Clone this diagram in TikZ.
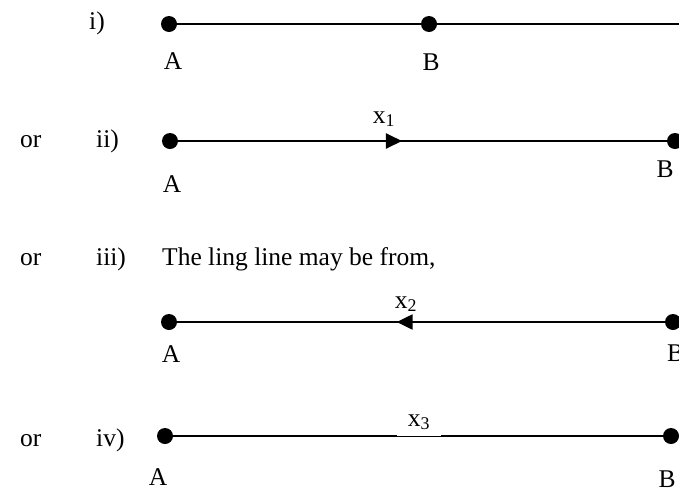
\documentclass[tikz,border=0pt]{standalone}
\usepackage{fontspec}
\setmainfont{Liberation Serif}
\usetikzlibrary{arrows.meta,positioning,decorations.markings}
\tikzset{
  every node/.append style={font=\fontsize{25.5}{30}\selectfont},
  dot/.style={circle, fill=black, inner sep=0pt, minimum size=16pt},
  lbl/.style={inner sep=0pt},
  tag/.style={inner sep=0pt, anchor=base west},
  seg/.style={line width=2.1pt},
  midarrow/.style={seg, postaction={decorate}, decoration={markings,
      mark=at position #1 with {\arrow{Triangle[length=16pt,width=15pt]}}}},
}

\begin{document}
\begin{tikzpicture}[x=1pt, y=-1pt, node distance=20pt]
  \useasboundingbox (0,0) rectangle (679,496);
  % i)
  \node[tag] (r1) at (89,29) {i)};
  \node[dot] (a1) at (169,24) {};
  \node[dot] (b1) at (429,24) {};
  \coordinate (e1) at (682,24);
  \node[lbl, below=20pt of a1, xshift=4pt] (la1) {A};
  \node[lbl, below=21pt of b1, xshift=2pt] (lb1) {B};
  \draw[seg] (a1) -- (b1);
  \draw[seg] (b1) -- (e1);
  % ii)
  \node[tag] (o2) at (20,147) {or};
  \node[tag] (r2) at (96,147) {ii)};
  \node[dot] (a2) at (170,141) {};
  \node[dot] (b2) at (675,141) {};
  \node[lbl, below=26pt of a2, xshift=2pt] (la2) {A};
  \node[lbl, below=11pt of b2, xshift=-10pt] (lb2) {B};
  \node[lbl, anchor=base] (x1) at (384,123) {x\textsubscript{1}};
  \draw[midarrow=0.458] (a2) -- (b2);
  % iii)
  \node[tag] (o3) at (20,265) {or};
  \node[tag] (r3) at (96,265) {iii)};
  \node[tag] (txt) at (162,265) {The ling line may be from,};
  \node[dot] (a3) at (169,322) {};
  \node[dot] (b3) at (673,322) {};
  \node[lbl, below=15pt of a3, xshift=2pt] (la3) {A};
  \node[lbl, below=14pt of b3, xshift=2.5pt] (lb3) {B};
  \node[lbl, anchor=base] (x2) at (406,308) {x\textsubscript{2}};
  \draw[midarrow=0.55] (b3) -- (a3);
  % iv)
  \node[tag] (o4) at (20,446) {or};
  \node[tag] (r4) at (96,446) {iv)};
  \node[dot] (a4) at (165,436) {};
  \node[dot] (b4) at (671,436) {};
  \node[lbl, below=24pt of a4, xshift=-7pt] (la4) {A};
  \node[lbl, below=26pt of b4, xshift=-4pt] (lb4) {B};
  \draw[seg] (a4) -- (b4);
  \node[lbl, anchor=base, fill=white, inner xsep=11pt, inner ysep=6pt] (x3) at (419,426) {x\textsubscript{3}};
\end{tikzpicture}
\end{document}
